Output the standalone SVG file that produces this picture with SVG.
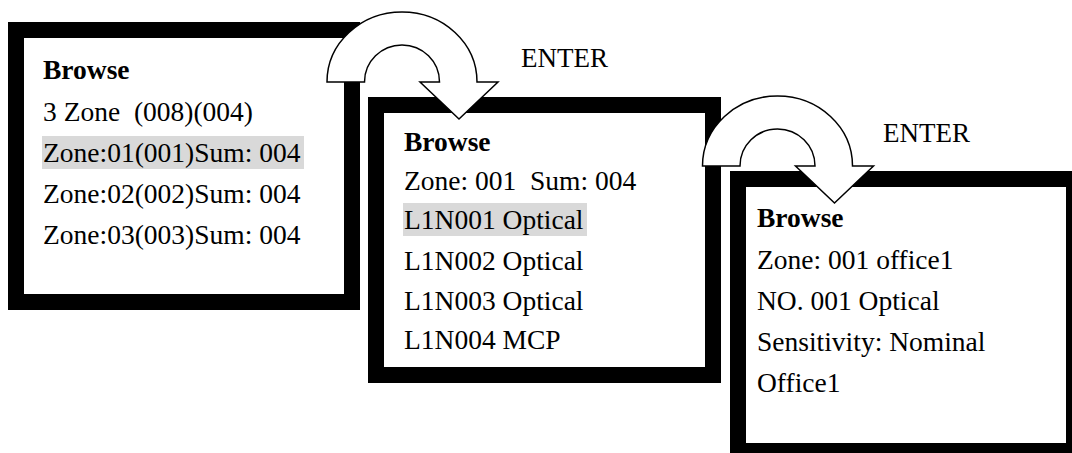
<svg xmlns="http://www.w3.org/2000/svg" width="1072" height="453" viewBox="0 0 1072 453">
<defs>
<style>
.frame{fill:#fff;stroke:#000;stroke-width:16}
.hl{fill:#d9d9d9}
.t{font-family:"Liberation Serif","Times New Roman",serif;font-size:27.5px;fill:#000}
.b{font-weight:bold}
.lbl{font-family:"Liberation Serif","Times New Roman",serif;font-size:27px;fill:#000}
.arrow{fill:#fff;stroke:#000;stroke-width:1.5;stroke-linejoin:miter}
</style>
<path id="uturn" d="M 327 82 A 75 70 0 0 1 477 82 L 498 82 L 459 119 L 420 82 L 439.5 82 A 37.5 37 0 0 0 364.5 82 Z"/>
</defs>
<rect width="1072" height="453" fill="#fff"/>
<g id="screen1">
<rect class="frame" x="16" y="30" width="336" height="272"/>
<rect class="hl" x="42" y="136" width="262" height="33"/>
<text class="t b" x="43" y="79">Browse</text>
<text class="t" x="43" y="120.5" xml:space="preserve">3 Zone  (008)(004)</text>
<text class="t" x="43" y="162">Zone:01(001)Sum: 004</text>
<text class="t" x="43" y="203">Zone:02(002)Sum: 004</text>
<text class="t" x="43" y="244">Zone:03(003)Sum: 004</text>
</g>
<g id="screen2">
<rect class="frame" x="376" y="105" width="337" height="270"/>
<rect class="hl" x="403" y="203" width="184" height="33"/>
<text class="t b" x="404" y="151">Browse</text>
<text class="t" x="404" y="189.5" xml:space="preserve">Zone: 001  Sum: 004</text>
<text class="t" x="404" y="229">L1N001 Optical</text>
<text class="t" x="404" y="270">L1N002 Optical</text>
<text class="t" x="404" y="310">L1N003 Optical</text>
<text class="t" x="404" y="349">L1N004 MCP</text>
</g>
<g id="screen3">
<rect class="frame" x="738" y="179" width="336" height="272"/>
<text class="t b" x="757" y="227">Browse</text>
<text class="t" x="757" y="269">Zone: 001 office1</text>
<text class="t" x="757" y="310">NO. 001 Optical</text>
<text class="t" x="757" y="351">Sensitivity: Nominal</text>
<text class="t" x="757" y="392">Office1</text>
</g>
<g id="connectors">
<use href="#uturn" class="arrow"/>
<use href="#uturn" class="arrow" transform="translate(375.5 84)"/>
<text class="lbl" x="521" y="67">ENTER</text>
<text class="lbl" x="883" y="142">ENTER</text>
</g>
</svg>
